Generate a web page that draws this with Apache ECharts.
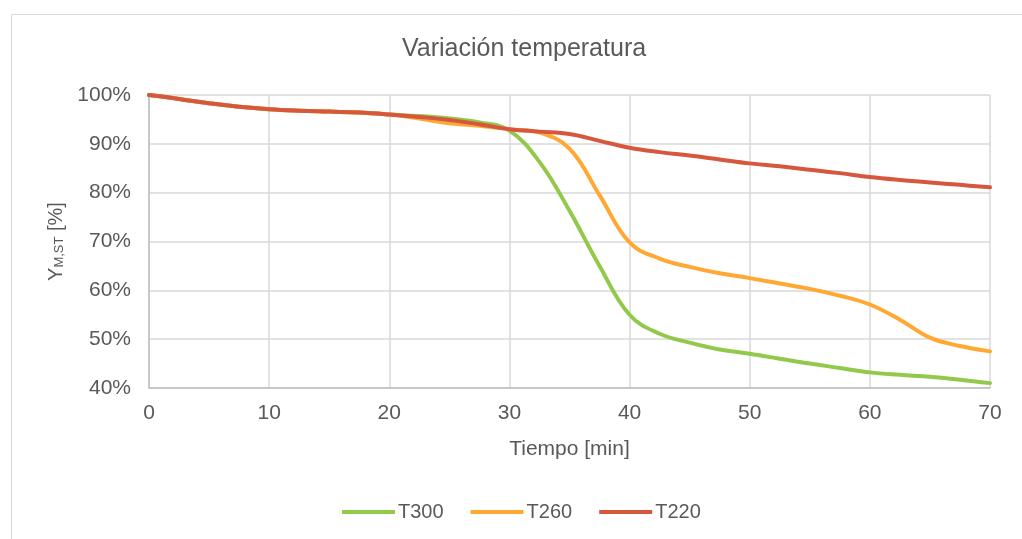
<!DOCTYPE html>
<html>
<head>
<meta charset="utf-8">
<script src="https://cdn.jsdelivr.net/npm/echarts@6/dist/echarts.min.js"></script>
<style>
html,body{margin:0;padding:0;background:#fff;}
#chart{width:1022px;height:539px;}
</style>
</head>
<body>
<div id="chart"></div>
<script>
const times = [0,2.5,5,7.5,10,12.5,15,17.5,20,22.5,25,27.5,30,32.5,35,37.5,40,42.5,45,47.5,50,52.5,55,57.5,60,62.5,65,67.5,70];
const t300 = [100,99.2,98.3,97.6,97.1,96.8,96.6,96.4,96.0,95.7,95.2,94.4,92.7,86.3,76.3,65.0,55.0,51.1,49.3,47.9,47.0,46.0,45.0,44.1,43.2,42.7,42.3,41.7,41.0];
const t260 = [100,99.2,98.3,97.6,97.1,96.8,96.6,96.4,96.0,95.2,94.2,93.7,93.0,92.3,89.0,79.5,69.8,66.5,64.8,63.5,62.5,61.4,60.3,58.9,57.1,54.0,50.3,48.6,47.5];
const t220 = [100,99.2,98.3,97.6,97.1,96.8,96.6,96.4,96.0,95.5,94.9,94.0,93.0,92.5,92.0,90.6,89.2,88.3,87.6,86.8,86.0,85.4,84.7,84.0,83.2,82.6,82.1,81.6,81.1];
const seriesNames = ['T300','T260','T220'];
const seriesColors = ['#92c94a','#ffa833','#d6573d'];
const chartTitle = 'Variación temperatura';
const xAxisTitle = 'Tiempo [min]';

const allValues = [t300, t260, t220];
const chart = echarts.init(document.getElementById('chart'));
const textColor = '#595959';
const font = 'Liberation Sans, Arial, sans-serif';

chart.setOption({
  animation: false,
  backgroundColor: '#fff',
  graphic: [{
    type: 'rect', left: 9, top: 12,
    shape: {x: 0.5, y: 0.5, width: 1040, height: 560},
    style: {fill: 'none', stroke: '#d9d9d9', lineWidth: 1}
  }],
  title: {
    text: chartTitle, left: 397, top: 32,
    textStyle: {fontFamily: font, fontSize: 25, fontWeight: 'normal', color: textColor}
  },
  grid: {left: 149, right: 32, top: 95, bottom: 151, containLabel: false},
  legend: {
    data: seriesNames, left: 337, top: 497,
    icon: 'rect', itemWidth: 53, itemHeight: 4, itemGap: 27,
    textStyle: {fontFamily: font, fontSize: 20, color: textColor, padding: [0,0,0,-2]}
  },
  xAxis: {
    type: 'value', min: 0, max: 70, interval: 10,
    name: xAxisTitle, nameLocation: 'middle', nameGap: 51,
    nameTextStyle: {fontFamily: font, fontSize: 21, color: textColor},
    axisLine: {show: true, lineStyle: {color: '#bfbfbf', width: 1.5}},
    axisTick: {show: false},
    axisLabel: {fontFamily: font, fontSize: 21, color: textColor, margin: 15},
    splitLine: {show: true, lineStyle: {color: '#d9d9d9', width: 1.5}}
  },
  yAxis: {
    type: 'value', min: 40, max: 100, interval: 10,
    name: '{a|Y}{b|M,ST}{a| [%]}', nameLocation: 'middle', nameGap: 80, nameRotate: 90,
    nameTextStyle: {
      fontFamily: font, color: textColor,
      rich: {
        a: {fontFamily: font, fontSize: 20, color: textColor, lineHeight: 20, verticalAlign: 'top'},
        b: {fontFamily: font, fontSize: 13, color: textColor, lineHeight: 13, verticalAlign: 'bottom', padding: [11,0,0,0]}
      }
    },
    axisLine: {show: true, lineStyle: {color: '#bfbfbf', width: 1.5}},
    axisTick: {show: false},
    axisLabel: {fontFamily: font, fontSize: 21, color: textColor, margin: 18, formatter: '{value}%'},
    splitLine: {show: true, lineStyle: {color: '#d9d9d9', width: 1.5}}
  },
  series: seriesNames.map((n, i) => ({
    name: n, type: 'line', smooth: 0.4, showSymbol: false, symbol: 'none',
    color: seriesColors[i],
    lineStyle: {width: 4, color: seriesColors[i], cap: 'round'},
    data: times.map((t, k) => [t, allValues[i][k]])
  }))
});
</script>
</body>
</html>
